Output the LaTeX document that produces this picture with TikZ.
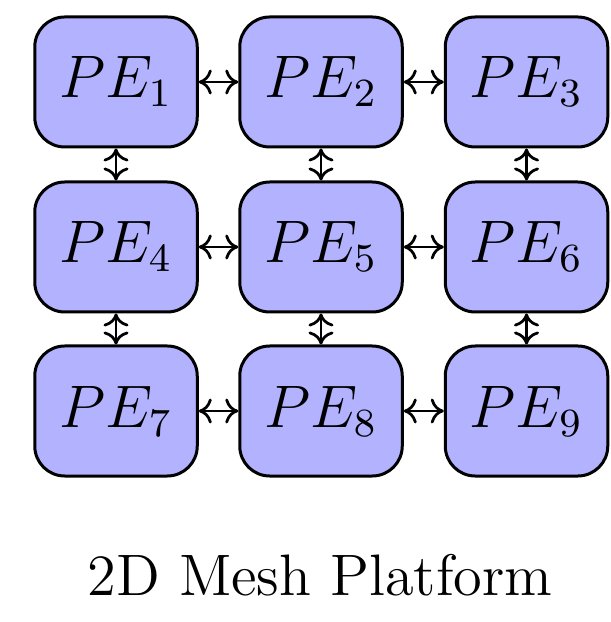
\documentclass[tikz,border=0pt]{standalone}
\usetikzlibrary{arrows.meta}
\begin{document}
\begin{tikzpicture}[x=0.2pt,y=-0.2pt,
  pebox/.style={draw=black, fill=blue!30, line width=0.6pt, rounded corners=6pt,
    minimum width=32.5pt, minimum height=26pt, inner sep=0pt,
    font=\fontsize{11.5}{13}\selectfont},
  link/.style={line width=0.55pt, {Computer Modern Rightarrow[length=2.6pt,width=5pt]}-{Computer Modern Rightarrow[length=2.6pt,width=5pt]}}]
\useasboundingbox (0,0) rectangle (610,622);
\node[pebox] (p1) at (116,82) {$PE_1$};
\node[pebox] (p2) at (321,82) {$PE_2$};
\node[pebox] (p3) at (526.5,82) {$PE_3$};
\node[pebox] (p4) at (116,247) {$PE_4$};
\node[pebox] (p5) at (321,247) {$PE_5$};
\node[pebox] (p6) at (526.5,247) {$PE_6$};
\node[pebox] (p7) at (116,411) {$PE_7$};
\node[pebox] (p8) at (321,411) {$PE_8$};
\node[pebox] (p9) at (526.5,411) {$PE_9$};
\foreach \a/\b in {p1/p2,p2/p3,p4/p5,p5/p6,p7/p8,p8/p9}
  \draw[link] (\a.east) -- (\b.west);
\foreach \a/\b in {p1/p4,p2/p5,p3/p6,p4/p7,p5/p8,p6/p9}
  \draw[link] (\a.south) -- (\b.north);
\node[anchor=base, font=\fontsize{11.7}{13}\selectfont, inner sep=0pt] (cap) at (320,595) {2D Mesh Platform};
\end{tikzpicture}
\end{document}
